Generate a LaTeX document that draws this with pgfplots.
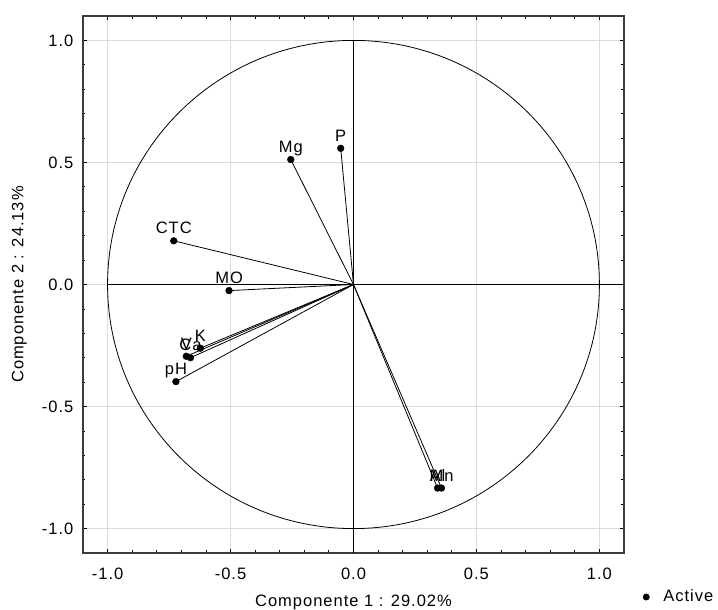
\documentclass[border=0pt]{standalone}
\usepackage{pgfplots}
\pgfplotsset{compat=1.18}
\usepackage{pgfplotstable}
\usepackage{fontspec}
\setmainfont{Liberation Sans}[LetterSpace=6]
\definecolor{gridgray}{HTML}{DCDCDC}
\definecolor{spine}{HTML}{3C3C3C}
\pgfplotstableread{
x y label
-0.052 0.558 P
-0.255 0.512 Mg
-0.731 0.179 CTC
-0.506 -0.025 MO
-0.623 -0.261 K
-0.663 -0.300 Ca
-0.680 -0.294 V
-0.722 -0.398 pH
0.342 -0.834 Al
0.358 -0.834 Mn
}\loadings
\begin{document}
\fontsize{16.5bp}{19bp}\selectfont
\begin{tikzpicture}
\begin{axis}[
  width=541bp, height=537bp, scale only axis,
  xmin=-1.1, xmax=1.1, ymin=-1.1, ymax=1.1,
  xtick={-1,-0.5,0,0.5,1}, ytick={-1,-0.5,0,0.5,1},
  minor x tick num=4, minor y tick num=4,
  major tick length=4bp, minor tick length=2.5bp,
  tick style={black, line width=0.8bp},
  axis line style={spine, line width=1.4bp},
  grid=major, major grid style={gridgray, line width=1bp},
  tick align=inside,
  /pgf/number format/.cd, fixed, fixed zerofill, precision=1, assume math mode=true,
  /pgfplots/.cd,
  ticklabel style={font=\fontsize{16.5bp}{19bp}\selectfont, black},
  xticklabel style={yshift=-9bp},
  yticklabel style={xshift=-4bp},
  xlabel={Componente 1 : 29.02\%},
  ylabel={Componente 2 : 24.13\%},
  label style={font=\fontsize{16.5bp}{19bp}\selectfont},
  xlabel style={yshift=-4bp},
  ylabel style={yshift=4bp},
  clip=false,
  legend style={draw=none, fill=none, at={(axis description cs:1.102,-0.082)}, anchor=center,
    font=\fontsize{16.5bp}{19bp}\selectfont, legend cell align=left},
  legend image post style={mark size=3.2bp},
]
\draw[black, line width=0.9bp] (axis cs:-1,0) -- (axis cs:1.1,0);
\draw[black, line width=0.9bp] (axis cs:0,1) -- (axis cs:0,-1.1);
\draw[black, line width=0.8bp] (axis cs:0,0) ellipse [x radius=1, y radius=1];
\addplot[forget plot, black, line width=0.8bp, quiver={u=\thisrow{x}, v=\thisrow{y}}]
  table[x expr=0, y expr=0] {\loadings};
\addplot[only marks, mark=*, mark size=3.4bp, black,
  nodes near coords, point meta=explicit symbolic,
  every node near coord/.style={anchor=base, yshift=7bp, font=\fontsize{16.5bp}{19bp}\selectfont, text=black, inner sep=0pt}]
  table[x=x, y=y, meta=label] {\loadings};
\addlegendentry{\hspace{12bp}Active}
\coordinate (bl) at (rel axis cs:-0.1534,-0.1043);
\coordinate (tr) at (rel axis cs:1.1738,1.0298);
\end{axis}
\pgfresetboundingbox
\path (bl) rectangle (tr);
\end{tikzpicture}
\end{document}
